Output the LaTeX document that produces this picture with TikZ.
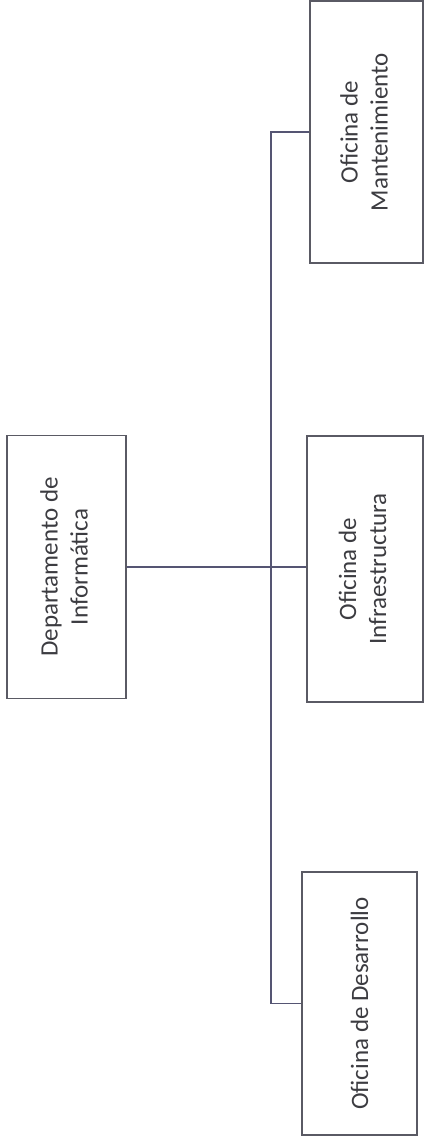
\documentclass[tikz,border=0pt]{standalone}
\usepackage{graphicx}
\usepackage{fontspec}
\setmainfont{Carlito}
\definecolor{linec}{RGB}{85,85,115}
\definecolor{boxc}{RGB}{90,90,100}
\definecolor{textc}{RGB}{60,60,65}
\begin{document}
\begin{tikzpicture}[x=0.5pt,y=-0.5pt,
  orgbox/.style={draw=boxc,line width=0.7pt,inner sep=0pt,text=textc,
    font=\fontsize{12.5}{15}\selectfont},
  conn/.style={draw=linec,line width=0.6pt}]
\useasboundingbox (0,0) rectangle (425,1147);
\node[orgbox,minimum width=59.5pt,minimum height=131.5pt] (dep) at (66.5,567)
  {\rotatebox{90}{\begin{tabular}{@{}c@{}}Departamento de\\Informática\end{tabular}}};
\node[orgbox,minimum width=56.5pt,minimum height=131pt] (man) at (366.5,132)
  {\rotatebox{90}{\begin{tabular}{@{}c@{}}Oficina de\\Mantenimiento\end{tabular}}};
\node[orgbox,minimum width=58pt,minimum height=133pt] (inf) at (365,569)
  {\rotatebox{90}{\begin{tabular}{@{}c@{}}Oficina de\\Infraestructura\end{tabular}}};
\node[orgbox,minimum width=57.5pt,minimum height=131.5pt] (des) at (359.5,1003.5)
  {\rotatebox{90}{Oficina de Desarrollo}};
\coordinate (bus) at (271,567);
\draw[conn] (dep.east) -- (dep.east -| inf.west);
\draw[conn] (man.west) -| (bus) |- (des.west);
\end{tikzpicture}
\end{document}
